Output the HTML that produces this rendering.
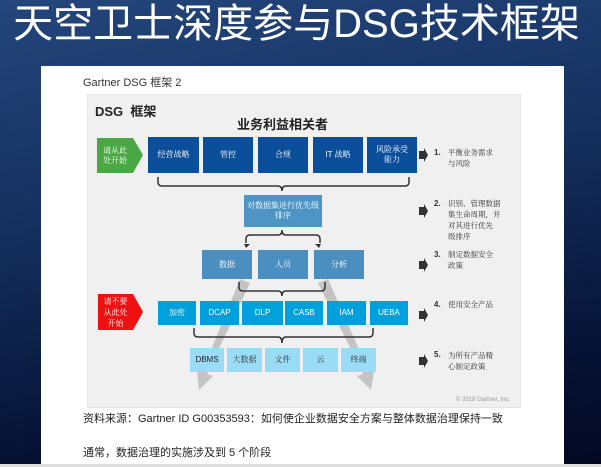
<!DOCTYPE html>
<html><head><meta charset="utf-8"><style>
*{margin:0;padding:0;box-sizing:border-box}
body{width:601px;height:467px;overflow:hidden;position:relative;background:linear-gradient(170deg,#24467c 0%,#14305e 40%,#061235 80%,#020822 100%);font-family:"Liberation Sans","Noto Sans CJK SC",sans-serif}
.a{position:absolute}
.b{position:absolute;display:flex;align-items:center;justify-content:center;text-align:center;color:#fff;font-family:"Noto Serif CJK SC","Liberation Serif",serif;font-size:8px;line-height:10px}
.s{font-family:"Liberation Sans",sans-serif}
.t{position:absolute;font-family:"Noto Serif CJK SC",serif;font-size:7.5px;line-height:11px;color:#333}
.n{position:absolute;font-size:8px;color:#333;font-weight:bold}
</style></head><body>
<div class="a" style="left:0;top:1px;width:593px;text-align:center;color:#fff;font-size:40px;line-height:46px;font-family:'Liberation Sans','Noto Sans CJK SC',sans-serif;white-space:nowrap">天空卫士深度参与DSG技术框架</div>
<div class="a" style="left:41px;top:66px;width:523px;height:401px;background:#fff"></div>
<div class="a" style="left:0;top:464px;width:601px;height:3px;background:#ddd"></div>
<div class="a" style="left:83px;top:74px;font-size:11px;color:#333">Gartner DSG 框架 2</div>
<div class="a" style="left:87px;top:94px;width:434px;height:314px;background:#f0f0f0;border:1px solid #e4e4e4"></div>
<div class="a" style="left:95px;top:101px;font-size:13px;font-weight:bold;color:#222">DSG&nbsp; 框架</div>
<div class="a" style="left:200px;top:114px;width:165px;text-align:center;font-size:13px;font-weight:bold;color:#222">业务利益相关者</div>
<svg class="a" style="left:0;top:0" width="601" height="467">
<polygon points="97,138 133,138 143,155 133,173 97,173" fill="#4aa844"/>
<polygon points="98,294 133,294 143,312 133,330 98,330" fill="#ee1111"/>
<g fill="#c4c4c4">
<polygon points="240,279 250,283 207,374 213,376 199,390 197,371 202,372"/>
<polygon points="318,283 328,279 369,372 374,371 371,390 357,376 363,374"/>
</g>
<g fill="none" stroke="#333" stroke-width="1.5">
<path d="M158,177 v5 q0,4 4,4 h116 q4,0 4,5 q0,-5 4,-5 h119 q4,0 4,-4 v-5"/>
<path d="M246,243 v-4 q0,-4 4,-4 h28 q4,0 4,-5 q0,5 4,5 h30 q4,0 4,4 v4"/>
<path d="M239,282 v5 q0,4 4,4 h35 q4,0 4,5 q0,-5 4,-5 h35 q4,0 4,-4 v-5"/>
<path d="M194,328 v5 q0,4 4,4 h80 q4,0 4,6 q0,-6 4,-6 h83 q4,0 4,-4 v-5"/>
</g>
<g fill="#333"><polygon points="244,244 250,244 246,248"/><polygon points="315,244 321,244 319,248"/></g>
<g fill="#333">
<polygon points="419,151 424,151 424,148 428,155 424,162 424,159 419,159"/>
<polygon points="419,207 424,207 424,204 428,211 424,218 424,215 419,215"/>
<polygon points="419,261 424,261 424,258 428,265 424,272 424,269 419,269"/>
<polygon points="419,311 424,311 424,308 428,315 424,322 424,319 419,319"/>
<polygon points="419,357 424,357 424,354 428,361 424,368 424,365 419,365"/>
</g>
</svg>
<div class="b" style="left:99px;top:140px;width:32px;height:32px">请从此<br>处开始</div>
<div class="b" style="left:98px;top:294px;width:35px;height:36px;line-height:11px">请不要<br>从此处<br>开始</div>
<div class="b" style="left:148px;top:137px;width:51px;height:36px;background:#0b4f9a">经营战略</div>
<div class="b" style="left:203px;top:137px;width:50px;height:36px;background:#0b4f9a">管控</div>
<div class="b" style="left:258px;top:137px;width:50px;height:36px;background:#0b4f9a">合规</div>
<div class="b" style="left:313px;top:137px;width:50px;height:36px;background:#0b4f9a"><span class="s">IT</span>&nbsp;战略</div>
<div class="b" style="left:367px;top:137px;width:50px;height:36px;background:#0b4f9a">风险承受<br>能力</div>
<div class="b" style="left:244px;top:195px;width:78px;height:32px;background:#4d95c4">对数据集进行优先级<br>排序</div>
<div class="b" style="left:202px;top:250px;width:50px;height:29px;background:#4a8fbf">数据</div>
<div class="b" style="left:258px;top:250px;width:50px;height:29px;background:#4a8fbf">人员</div>
<div class="b" style="left:314px;top:250px;width:50px;height:29px;background:#4a8fbf">分析</div>
<div class="b" style="left:158px;top:301px;width:38px;height:24px;background:#00a0dc">加密</div>
<div class="b s" style="left:200px;top:301px;width:39px;height:24px;background:#00a0dc">DCAP</div>
<div class="b s" style="left:242px;top:301px;width:41px;height:24px;background:#00a0dc">DLP</div>
<div class="b s" style="left:285px;top:301px;width:38px;height:24px;background:#00a0dc">CASB</div>
<div class="b s" style="left:327px;top:301px;width:39px;height:24px;background:#00a0dc">IAM</div>
<div class="b s" style="left:370px;top:301px;width:38px;height:24px;background:#00a0dc">UEBA</div>
<div class="b s" style="left:190px;top:348px;width:34px;height:24px;background:#9adbf5;color:#222">DBMS</div>
<div class="b" style="left:227px;top:348px;width:35px;height:24px;background:#9adbf5;color:#333">大数据</div>
<div class="b" style="left:265px;top:348px;width:35px;height:24px;background:#9adbf5;color:#333">文件</div>
<div class="b" style="left:303px;top:348px;width:35px;height:24px;background:#9adbf5;color:#333">云</div>
<div class="b" style="left:341px;top:348px;width:35px;height:24px;background:#9adbf5;color:#333">终端</div>
<div class="n" style="left:434px;top:148px">1.</div><div class="t" style="left:448px;top:147px">平衡业务需求<br>与风险</div>
<div class="n" style="left:434px;top:199px">2.</div><div class="t" style="left:448px;top:198px">识别、管理数据<br>集生命周期，并<br>对其进行优先<br>级排序</div>
<div class="n" style="left:434px;top:250px">3.</div><div class="t" style="left:448px;top:249px">制定数据安全<br>政策</div>
<div class="n" style="left:434px;top:300px">4.</div><div class="t" style="left:448px;top:299px">使用安全产品</div>
<div class="n" style="left:434px;top:350px">5.</div><div class="t" style="left:448px;top:350px">为所有产品精<br>心制定政策</div>
<div class="a" style="left:456px;top:397px;font-size:6px;color:#999">© 2018 Gartner, Inc.</div>
<div class="a" style="left:83px;top:410px;font-size:11px;color:#222;white-space:nowrap">资料来源：Gartner ID G00353593：如何使企业数据安全方案与整体数据治理保持一致</div>
<div class="a" style="left:83px;top:444px;font-size:11px;color:#222">通常，数据治理的实施涉及到 5 个阶段</div>
</body></html>
